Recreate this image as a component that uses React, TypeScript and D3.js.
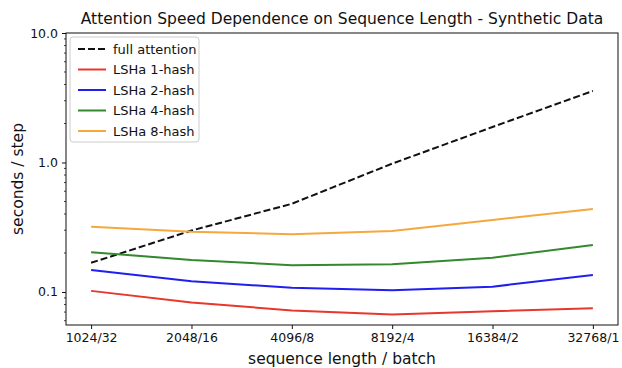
import React, { useEffect, useRef } from "react";
import * as d3 from "d3";

// categories on the x axis
const categories = ["1024/32", "2048/16", "4096/8", "8192/4", "16384/2", "32768/1"];

// seconds / step
const fullAttention = [0.168, 0.298, 0.48, 0.98, 1.88, 3.57];
const lsh1 = [0.102, 0.083, 0.072, 0.067, 0.071, 0.075];
const lsh2 = [0.148, 0.121, 0.108, 0.103, 0.110, 0.135];
const lsh4 = [0.203, 0.177, 0.161, 0.164, 0.184, 0.231];
const lsh8 = [0.319, 0.292, 0.279, 0.296, 0.36, 0.437];

const yTicks = [0.1, 1, 10];
const yTickLabels = ["0.1", "1.0", "10.0"];

const seriesNames = ["full attention", "LSHa 1-hash", "LSHa 2-hash", "LSHa 4-hash", "LSHa 8-hash"];
const seriesColors = ["#111111", "#e8372b", "#1f1ff0", "#33892b", "#f5a83c"];

const App = () => {
  const chartRef = useRef<SVGSVGElement>(null);

  useEffect(() => {
    document.body.style.margin = "0";
    const svg = d3.select(chartRef.current);
    svg.selectAll("*").remove();

    const left = 66, right = 618, top = 33, bottom = 325;
    const font = "DejaVu Sans, sans-serif";
    const ink = "#111";

    // point positions with matplotlib-like 5% margins
    const span = right - left;
    const x = d3.scalePoint<string>()
      .domain(categories)
      .range([left + span * 0.0455, right - span * 0.0455]);

    const y = d3.scaleLog()
      .domain([0.0556, 10])
      .range([bottom, top]);

    // x axis
    const xAxis = svg.append("g")
      .attr("transform", `translate(0, ${bottom})`)
      .call(d3.axisBottom(x).tickSize(4).tickPadding(4));
    xAxis.select(".domain").remove();
    xAxis.selectAll("text").attr("font-family", font).attr("font-size", 12.5).attr("fill", ink);
    xAxis.selectAll("line").attr("stroke", ink);

    // y axis major ticks
    const yAxis = svg.append("g")
      .attr("transform", `translate(${left}, 0)`)
      .call(d3.axisLeft(y)
        .tickValues(yTicks)
        .tickFormat((d, i) => yTickLabels[i])
        .tickSize(4)
        .tickPadding(4));
    yAxis.select(".domain").remove();
    yAxis.selectAll("text").attr("font-family", font).attr("font-size", 12.5).attr("fill", ink);
    yAxis.selectAll("line").attr("stroke", ink);

    // minor ticks
    const minor: number[] = [];
    [0.01, 0.1, 1].forEach(base => {
      for (let k = 2; k <= 9; k++) {
        const v = base * k;
        if (v >= 0.0556 && v <= 10) minor.push(v);
      }
    });
    svg.append("g")
      .selectAll("line")
      .data(minor)
      .enter()
      .append("line")
      .attr("x1", left - 2)
      .attr("x2", left)
      .attr("y1", d => y(d))
      .attr("y2", d => y(d))
      .attr("stroke", ink)
      .attr("stroke-width", 0.8);

    // frame
    svg.append("rect")
      .attr("x", left)
      .attr("y", top)
      .attr("width", right - left)
      .attr("height", bottom - top)
      .attr("fill", "none")
      .attr("stroke", ink)
      .attr("stroke-width", 1);

    // lines
    const allSeries = [fullAttention, lsh1, lsh2, lsh4, lsh8];
    const line = d3.line<number>()
      .x((d, i) => x(categories[i]) as number)
      .y(d => y(d));

    allSeries.forEach((s, i) => {
      svg.append("path")
        .datum(s)
        .attr("d", line)
        .attr("fill", "none")
        .attr("stroke", seriesColors[i])
        .attr("stroke-width", 2)
        .attr("stroke-dasharray", i === 0 ? "7,3" : null);
    });

    // legend
    const legend = svg.append("g").attr("transform", "translate(70, 37)");
    legend.append("rect")
      .attr("width", 129)
      .attr("height", 105)
      .attr("rx", 3)
      .attr("fill", "white")
      .attr("fill-opacity", 0.8)
      .attr("stroke", "#ccc");
    seriesNames.forEach((name, i) => {
      const yy = 12 + i * 20.5;
      legend.append("line")
        .attr("x1", 8)
        .attr("x2", 36)
        .attr("y1", yy)
        .attr("y2", yy)
        .attr("stroke", seriesColors[i])
        .attr("stroke-width", 2)
        .attr("stroke-dasharray", i === 0 ? "7,3" : null);
      legend.append("text")
        .attr("x", 43)
        .attr("y", yy)
        .attr("dy", "0.35em")
        .attr("font-family", font)
        .attr("font-size", 13)
        .attr("fill", ink)
        .text(name);
    });

    // title and axis labels
    svg.append("text")
      .attr("x", (left + right) / 2)
      .attr("y", 24)
      .attr("text-anchor", "middle")
      .attr("font-family", font)
      .attr("font-size", 15.5)
      .attr("fill", ink)
      .text("Attention Speed Dependence on Sequence Length - Synthetic Data");

    svg.append("text")
      .attr("x", (left + right) / 2)
      .attr("y", 364)
      .attr("text-anchor", "middle")
      .attr("font-family", font)
      .attr("font-size", 15.5)
      .attr("fill", ink)
      .text("sequence length / batch");

    svg.append("text")
      .attr("transform", `translate(23, ${(top + bottom) / 2}) rotate(-90)`)
      .attr("text-anchor", "middle")
      .attr("font-family", font)
      .attr("font-size", 15.5)
      .attr("fill", ink)
      .text("seconds / step");
  }, []);

  return <svg ref={chartRef} width={622} height={368} style={{ display: "block" }}></svg>;
};

export default App;
